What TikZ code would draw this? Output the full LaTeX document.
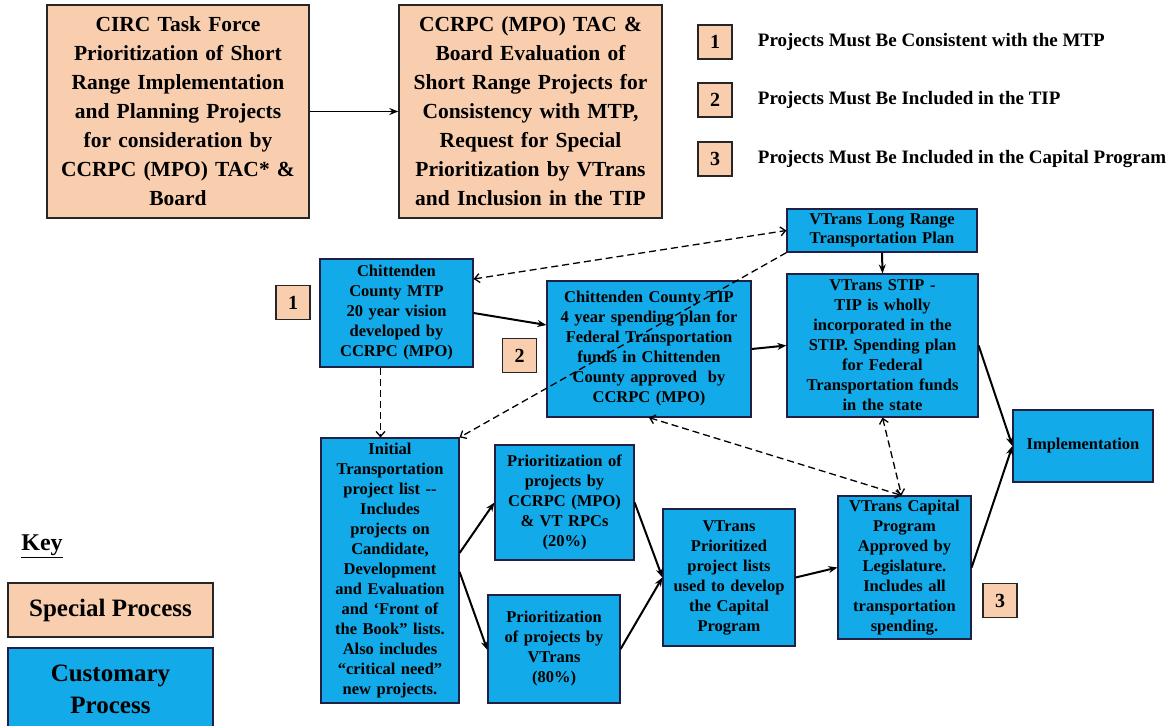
\documentclass[tikz,border=0pt]{standalone}
\usepackage{xcolor}
\usepackage{tikz}
\usetikzlibrary{arrows.meta, positioning, calc}
\usepackage{fontspec}
\setmainfont{Liberation Serif}
\definecolor{peach}{HTML}{F9CEAF}
\definecolor{skyblue}{HTML}{12AAE8}
\definecolor{edge}{HTML}{262626}

\begin{document}
\begin{tikzpicture}[x=1pt, y=-1pt,
    special/.style={draw=edge, line width=1.4pt, fill=peach, align=center, inner sep=3pt,
        font=\bfseries\fontsize{21.5}{29}\selectfont},
    customary/.style={draw=edge!85!blue, line width=1.2pt, fill=skyblue, align=center, inner sep=2pt,
        font=\bfseries\fontsize{16.5}{20}\selectfont},
    tagbox/.style={draw=edge, line width=1.4pt, fill=peach, minimum width=34pt, minimum height=34pt,
        inner sep=0pt, font=\bfseries\fontsize{20}{22}\selectfont},
    legendtext/.style={anchor=west, inner sep=3pt, font=\bfseries\fontsize{19}{22}\selectfont},
    flow/.style={-{Stealth[length=9pt, width=7pt]}, line width=2pt},
    link/.style={dash pattern=on 7pt off 4pt, line width=1.3pt, -{Straight Barb[length=5pt, width=9pt]}},
    twoway/.style={link, {Straight Barb[length=5pt, width=9pt]}-{Straight Barb[length=5pt, width=9pt]}}]

    \fill[white] (0,0) rectangle (1169,725);
    \useasboundingbox (0,0) rectangle (1169,725);

    \node[special, minimum width=262pt, minimum height=213pt, text width=254pt] (circ) at (178,111.5) {
      CIRC Task Force\\Prioritization of Short\\Range Implementation\\and Planning Projects\\
      for consideration by\\CCRPC (MPO) TAC* \&\\Board};
    \node[special, minimum width=263pt, minimum height=213pt, text width=255pt] (tac) at (530.5,111.5) {
      CCRPC (MPO) TAC \&\\Board Evaluation of\\Short Range Projects for\\Consistency with MTP,\\
      Request for Special\\Prioritization by VTrans\\and Inclusion in the TIP};

    \node[tagbox] (legone) at (715,42) {1};
    \node[legendtext, right=22pt of legone] (legonetext) {Projects Must Be Consistent with the MTP};
    \node[tagbox] (legtwo) at (715,100) {2};
    \node[legendtext, right=22pt of legtwo] (legtwotext) {Projects Must Be Included in the TIP};
    \node[tagbox] (legthree) at (715,159) {3};
    \node[legendtext, right=22pt of legthree] (legthreetext) {Projects Must Be Included in the Capital Program};

    \node[customary, minimum width=190pt, minimum height=43pt, text width=186pt,
          font=\bfseries\fontsize{16.5}{19}\selectfont] (lrtp) at (882,230.5) {
      VTrans Long Range\\Transportation Plan};
    \node[customary, minimum width=153pt, minimum height=108pt, text width=149pt] (mtp) at (396.5,313) {
      Chittenden\\County MTP\\20 year vision\\developed by\\CCRPC (MPO)};
    \node[tagbox] (tagone) at (293,302.5) {1};
    \node[customary, minimum width=204pt, minimum height=136pt, text width=200pt] (tip) at (649,349) {
      Chittenden County TIP\\4 year spending plan for\\Federal Transportation\\funds in Chittenden\\
      County approved~ by\\CCRPC (MPO)};
    \node[tagbox] (tagtwo) at (519.5,355.5) {2};
    \node[customary, minimum width=191pt, minimum height=143pt, text width=187pt] (stip) at (882.5,345.5) {
      VTrans STIP -\\TIP is wholly\\incorporated in the\\STIP. Spending plan\\for Federal\\
      Transportation funds\\in the state};
    \node[customary, minimum width=140pt, minimum height=72pt, text width=136pt] (impl) at (1083,446) {
      Implementation};
    \node[customary, minimum width=138pt, minimum height=265pt, text width=134pt] (init) at (390,570.5) {
      Initial\\Transportation\\project list {-}{-}\\Includes\\projects on\\Candidate,\\Development\\
      and Evaluation\\and ‘Front of\\the Book” lists.\\Also includes\\“critical need”\\new projects.};
    \node[customary, minimum width=139pt, minimum height=115pt, text width=135pt] (mpoprio) at (564.5,502.5) {
      Prioritization of\\projects by\\CCRPC (MPO)\\\& VT RPCs\\(20\%)};
    \node[customary, minimum width=132pt, minimum height=108pt, text width=128pt] (vtprio) at (554,649) {
      Prioritization\\of projects by\\VTrans\\(80\%)};
    \node[customary, minimum width=132pt, minimum height=137pt, text width=128pt] (lists) at (729,577.5) {
      VTrans\\Prioritized\\project lists\\used to develop\\the Capital\\Program};
    \node[customary, minimum width=133pt, minimum height=143pt, text width=129pt] (capital) at (904.5,567.5) {
      VTrans Capital\\Program\\Approved by\\Legislature.\\Includes all\\transportation\\spending.};
    \node[tagbox] (tagthree) at (1000,600.5) {3};

    \node[font=\bfseries\fontsize{24}{28}\selectfont] (keytitle) at (42,546) {\underline{Key}};
    \node[special, minimum width=205pt, minimum height=54pt, font=\bfseries\fontsize{25}{30}\selectfont]
      (keyspecial) at (110.5,610) {Special Process};
    \node[customary, minimum width=205pt, minimum height=82pt, text width=201pt,
          font=\bfseries\fontsize{25}{32}\selectfont] (keycustomary) at (110.5,689) {Customary\\Process};

    \draw[flow, line width=1.8pt] (circ.east) -- (tac.west);
    \draw[twoway] ([yshift=34pt]mtp.east) -- (lrtp.west);
    \draw[link] (lrtp.south west) -- (init.north east);
    \draw[link] ([xshift=-16pt]mtp.south) -- ([xshift=-16pt]mtp.south |- init.north);
    \draw[flow] (mtp.east) -- ([yshift=24pt]tip.west);
    \draw[flow] (tip.east) -- (stip.west);
    \draw[flow] (lrtp.south) -- (stip.north);
    \draw[flow] (stip.east) -- (impl.west);
    \draw[flow] (capital.east) -- (impl.west);
    \draw[twoway] (tip.south) -- ([xshift=-3pt]capital.north);
    \draw[twoway] (stip.south) -- ([xshift=-3pt]capital.north);
    \draw[flow] ([yshift=17.5pt]init.east) -- (mpoprio.west);
    \draw[flow] ([yshift=-1.5pt]init.east) -- ([yshift=-1pt]vtprio.west);
    \draw[flow] (mpoprio.east) -- (lists.west);
    \draw[flow] (vtprio.east) -- (lists.west);
    \draw[flow] (lists.east) -- (capital.west);
  \end{tikzpicture}
\end{document}
